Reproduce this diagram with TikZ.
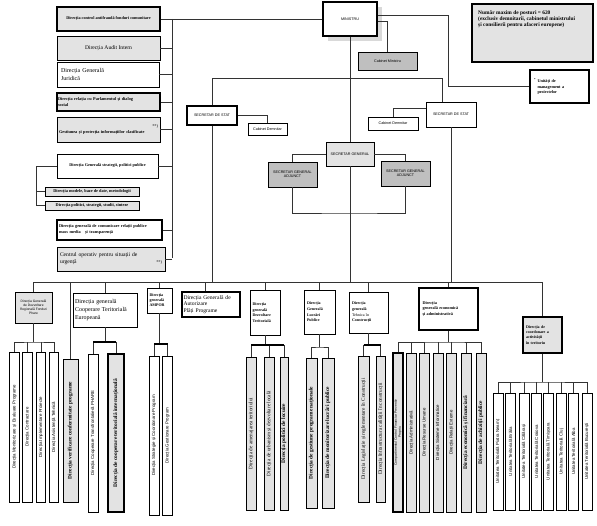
\documentclass[tikz,border=0pt]{standalone}
\usepackage{fontspec}
\setmainfont{Liberation Serif}
\setsansfont{Liberation Sans}
\usetikzlibrary{positioning}
\tikzset{
  wh/.style 2 args={minimum width=#1, minimum height=#2},
  box/.style={draw, line width=0.6pt, fill=white, inner sep=1pt, align=center},
  grey/.style={fill=gray!22},
  dark/.style={fill=gray!50},
  heavy/.style={line width=1.2pt},
  sans/.style={font=\sffamily\fontsize{3.7}{4.4}\selectfont},
  vbox/.style={draw, line width=0.6pt, fill=white, rotate=90, inner sep=0.5pt, align=center, font=\sffamily\fontsize{4.4}{4.8}\selectfont},
  vbold/.style={font=\rmfamily\bfseries\fontsize{5.4}{6}\selectfont},
  vserif/.style={font=\rmfamily\fontsize{5.2}{6}\selectfont},
  wire/.style={line width=0.5pt, draw=black!80},
  bar/.style={line width=1.6pt},
}
\begin{document}
\begin{tikzpicture}[x=1pt,y=-1pt]
\useasboundingbox (0,0) rectangle (597,526);

% left column
\node[box, grey, heavy, wh={103}{24}, font=\bfseries\fontsize{4.2}{5}\selectfont] (antifrauda) at (108.5,19) {Direcția control antifraudă fonduri comunitare};
\node[box, grey, wh={103}{24}, font=\fontsize{5.6}{6.5}\selectfont] (audit) at (108.5,48) {Direcția Audit Intern};
\node[box, wh={102}{25}, text width=94, align=left, font=\fontsize{6}{8}\selectfont] (juridica) at (108,74.5) {Direcția Generală\\Juridică};
\node[box, grey, heavy, wh={103}{18}, text width=101, align=left, font=\bfseries\fontsize{4.3}{5.2}\selectfont] (parlament) at (108.5,102) {Direcția relația cu Parlamentul și dialog\\social};
\node[box, grey, wh={103}{25}, text width=99, align=left, font=\bfseries\fontsize{4.3}{5.6}\selectfont] (gestiune) at (108.5,129.5) {\mbox{}\hfill{\mdseries **)}\\Gestiunea și protecția informațiilor clasificate};
\node[box, wh={101}{24}, font=\bfseries\fontsize{4.2}{5}\selectfont] (strategii) at (107.5,166) {Direcția Generală strategii, politici publice};
\node[box, grey, wh={94}{9}, font=\bfseries\fontsize{4.3}{5}\selectfont] (modele) at (92,191.5) {Direcția modele, baze de date, metodologii};
\node[box, grey, wh={94}{9}, font=\bfseries\fontsize{4.3}{5}\selectfont] (politici) at (92,205.5) {Direcția politici, strategii, studii, sinteze};
\node[box, heavy, wh={105}{20}, text width=101, align=left, font=\bfseries\fontsize{4.3}{6}\selectfont] (comunicare) at (109.5,230) {Direcția generală de comunicare relații publice\\mass media\quad și transparență};
\node[box, grey, wh={108}{24}, text width=102, align=left, font=\fontsize{5.6}{6.8}\selectfont] (centru) at (111,259) {Centrul operativ pentru situații de\\urgență\hfill{\fontsize{4.3}{5}\selectfont **)}};

\coordinate (bustop) at (172,19);
\coordinate (busbot) at (172,258);
\coordinate (sidebus) at (36,166);
\draw[wire] (bustop) -- (busbot);
\foreach \n in {audit,juridica,parlament,gestiune,strategii,comunicare,centru}
  \draw[wire] (\n.east) -- (\n.east -| bustop);
\draw[wire] (strategii.west) -- (sidebus) |- (politici.west);
\draw[wire] (modele.west) -- (modele.west -| sidebus);

% top
\fill[gray!30] (328,7) rectangle (382,41);
\node[box, heavy, wh={54}{34}, sans] (ministru) at (350,19) {MINISTRU};
\node[box, dark, wh={59}{18}, sans] (cabmin) at (387.5,61) {Cabinet Ministru};
\node[box, grey, heavy, wh={121}{58}] (posturi) at (532.5,33) {};
\node[anchor=north west, align=left, inner sep=0pt, font=\bfseries\fontsize{5.4}{6.4}\selectfont] (posturitext) at (478,10) {Număr maxim de posturi = 620\\(exclusiv demnitarii, cabinetul ministrului\\și consilierii pentru afaceri europene)};
\node[box, heavy, wh={59}{33}, text width=44, align=left, font=\bfseries\fontsize{4.2}{5.4}\selectfont] (ump) at (559.5,86.5) {\llap{\textsuperscript{*}\ }Unități de\\management a\\proiectelor};

\draw[wire] (antifrauda.east) -- (ministru.west);
\draw[wire] ([yshift=-2pt]ministru.east) -| (cabmin.north);
\coordinate (umpturn) at (448,15);
\draw[wire] (ministru.east |- umpturn) -- (umpturn) |- (ump.west);

% secretari
\node[box, heavy, wh={50}{19}, sans] (sds1) at (212,115.5) {SECRETAR DE STAT};
\node[box, wh={39}{12}, sans] (cab1) at (267.5,129) {Cabinet Demnitar};
\node[box, wh={50}{25}, sans] (sds2) at (451,114.5) {SECRETAR DE STAT};
\node[box, wh={50}{13}, sans] (cab2) at (393,123.5) {Cabinet Demnitar};
\node[box, grey, wh={48}{24}, sans] (sg) at (350,154) {SECRETAR GENERAL};
\node[box, dark, wh={49}{25}, sans] (sga1) at (292.5,174.5) {SECRETAR GENERAL\\ADJUNCT};
\node[box, dark, wh={49}{25}, sans] (sga2) at (405.5,173.5) {SECRETAR GENERAL\\ADJUNCT};

\coordinate (hr) at (442,78);
\coordinate (sgbar) at (350,213);
\coordinate (busL) at (33.5,282);
\coordinate (busR) at (542.5,282);
\draw[wire] (ministru.south) -- (sg.north);
\draw[wire] (sds1.north) |- (hr) -- (hr |- sds2.north);
\draw[wire] (sds1.east) -| (cab1.north);
\draw[wire] ([yshift=6pt]sds2.west) -| (cab2.north);
\draw[wire] (sg.west) -| (sga1.north);
\draw[wire] (sg.east) -| (sga2.north);
\draw[wire] (sga1.south) |- (sgbar) -| (sga2.south);
\draw[wire] (sg.south) -- (sg.south |- busL);
\draw[wire] (sds1.south) -- (sds1.south |- busL);
\draw[wire] (sds2.south) -- (sds2.south |- busL);
\draw[wire] (busL) -- (busR);

% directii generale
\node[box, grey, wh={37}{31}, font=\sffamily\fontsize{3.3}{4.2}\selectfont] (dgdr) at (33.5,307.5) {Direcția Generală\\de Dezvoltare\\Regională Fonduri\\Phare};
\node[box, wh={64}{34}, text width=60, align=left, font=\fontsize{6}{7.6}\selectfont] (dgcte) at (105,310) {Direcția generală\\Cooperare Teritorială\\Europeană};
\node[box, wh={25}{25}, text width=20, align=left, font=\bfseries\fontsize{4}{5}\selectfont] (ampor) at (159.5,300.5) {Direcția\\generală\\AMPOR};
\node[box, heavy, wh={58}{25}, text width=55, align=left, font=\fontsize{5.6}{6.6}\selectfont] (dgap) at (211,304.5) {Direcția Generală de\\Autorizare\\Plăți Programe};
\node[box, wh={30}{45}, text width=25, align=left, font=\bfseries\fontsize{4}{5.6}\selectfont] (dgdt) at (265,312.5) {Direcția\\generală\\Dezvoltare\\Teritorială};
\node[box, wh={31}{44}, text width=25, align=left, font=\bfseries\fontsize{4}{5.6}\selectfont] (dglp) at (319.5,312) {Direcția\\Generală\\Lucrări\\Publice};
\node[box, wh={39}{41}, text width=33, align=left, font=\bfseries\fontsize{4}{5.6}\selectfont] (dgtc) at (368.5,312.5) {Direcția\\generală\\{\mdseries Tehnica în}\\Construcții};
\node[box, heavy, wh={59}{42}, text width=52, align=left, font=\bfseries\fontsize{4.2}{5.6}\selectfont] (dgea) at (448.5,309) {Direcția\\generală economică\\și administrativă\\[10pt]};
\node[box, grey, heavy, wh={39}{36}, text width=33, align=left, font=\bfseries\fontsize{4}{5.2}\selectfont] (dcat) at (542.5,335) {Direcția de\\coordonare a\\activității\\în teritoriu};
\node[vbox, grey, vbold, wh={143}{15}] (verif) at (70.5,430.5) {Direcția verificare conformitate programe};

\foreach \n in {dgdr,dgcte,ampor,dgdt,dglp,dgtc,dgea,dcat}
  \draw[wire] (\n.north) -- (\n.north |- busL);
\draw[wire] ([xshift=-6pt]dgap.north) -- ([xshift=-6pt]dgap.north |- busL);
\draw[wire] (verif.east) -- (verif.east |- busL);

% directii
\foreach \n/\x/\t in {a1/14.5/Direcția Monitorizare și Evaluare Programe, a2/27.5/Direcția Contractare, a3/41/Direcția Implementare Proiecte, a4/54/Direcția Asistență Tehnică}
  \node[vbox, wh={150}{9.5}] (\n) at (\x,427) {\t};
\node[vbox, wh={158}{10}] (b1) at (93,433) {Direcția Cooperare Transfrontalieră PHARE};
\node[vbox, grey, heavy, vbold, wh={158}{16}] (b2) at (116,433) {Direcția de cooperare teritorială internațională};
\node[vbox, wh={159}{10}] (c1) at (154,435.5) {Direcția Strategie și Coordonare Program};
\node[vbox, wh={159}{10}] (c2) at (167.5,435.5) {Direcția Gestionare Program};
\node[vbox, grey, vserif, wh={153}{10}] (e1) at (251,433.5) {Direcția de amenajarea teritoriului};
\node[vbox, grey, vserif, wh={153}{10}] (e2) at (269,433.5) {Direcția de urbanism și dezvoltare locală};
\node[vbox, grey, vbold, wh={153}{8}] (e3) at (284,433.5) {Direcția politici de locuire};
\node[vbox, grey, vbold, wh={150}{11}] (f1) at (311.5,433) {Direcția de gestiune programe naționale};
\node[vbox, grey, vbold, wh={150}{12}] (f2) at (328,433) {Direcția de monitorizare lucrări publice};
\node[vbox, grey, vserif, wh={146}{11}] (g1) at (363.5,429) {Direcția Legislație și reglementare în Construcții};
\node[vbox, grey, vserif, wh={146}{9}] (g2) at (380.5,429) {Direcția Infrastructura calității în construcții};
\node[vbox, grey, heavy, wh={159}{10}, font=\sffamily\fontsize{3.4}{3.8}\selectfont] (h1) at (398,432.5) {Compartimentul Control Financiar Preventiv\\Propriu};
\foreach \n/\x/\t in {h2/411.5/Direcția Administrativă, h3/424.5/Direcția Resurse Umane, h4/438/Direcția Sisteme Informatice, h5/451.5/Direcția Relații Externe}
  \node[vbox, grey, wh={159}{10}] (\n) at (\x,432.5) {\t};
\node[vbox, grey, vbold, wh={159}{10}] (h6) at (466,432.5) {Direcția economică și financiară};
\node[vbox, grey, vbold, wh={159}{10}] (h7) at (481,432.5) {Direcția de achiziții publice};
\foreach \n/\x/\t in {i1/498/Piatra Neamț, i2/510.5/Brăila, i3/524/Călărași, i4/536.5/Craiova, i5/548.5/Timișoara, i6/561.5/Cluj, i7/573.5/Alba, i8/587/București}
  \node[vbox, wh={117}{10}] (\n) at (\x,451.5) {Unitatea Teritorială \t};

% brackets
\coordinate (brA) at (33.5,342);
\coordinate (brB) at (105,342);
\coordinate (brC) at (159.5,344);
\coordinate (brE) at (265,345);
\coordinate (brF) at (319.5,347);
\coordinate (brG) at (368.5,345);
\coordinate (brH) at (448.5,342);
\coordinate (brI) at (542.5,382);
\draw[wire] (dgdr.south) -- (brA);
\draw[wire] (a1.east) |- (brA) -| (a4.east);
\foreach \n in {a2,a3} \draw[wire] (\n.east) -- (\n.east |- brA);
\draw[wire] (dgcte.south) -- (brB);
\draw[wire] (b1.east) |- (brB) -| (b2.east);
\draw[bar] (b1.east |- brB) -- (b2.east |- brB);
\draw[wire] (ampor.south) -- (brC);
\draw[wire] (c1.east) |- (brC) -| (c2.east);
\draw[bar] (c1.east |- brC) -- (c2.east |- brC);
\draw[wire] (dgdt.south) -- (brE);
\draw[wire] (e1.east) |- (brE) -| (e3.east);
\draw[wire] (e2.east) -- (e2.east |- brE);
\draw[bar] (e1.east |- brE) -- (e3.east |- brE);
\draw[wire] (dglp.south) -- (brF);
\draw[wire] (f1.east) |- (brF) -| (f2.east);
\draw[wire] (dgtc.south) -- (brG);
\draw[wire] (g1.east) |- (brG) -| (g2.east);
\draw[bar] (g1.east |- brG) -- (g2.east |- brG);
\draw[wire] (dgea.south) -- (brH);
\draw[wire] (h1.east) |- (brH) -| (h7.east);
\foreach \n in {h2,h3,h4,h5,h6} \draw[wire] (\n.east) -- (\n.east |- brH);
\draw[wire] (dcat.south) -- (brI);
\draw[wire] (i1.east) |- (brI) -| (i8.east);
\foreach \n in {i2,i3,i4,i5,i6,i7} \draw[wire] (\n.east) -- (\n.east |- brI);
\end{tikzpicture}
\end{document}
